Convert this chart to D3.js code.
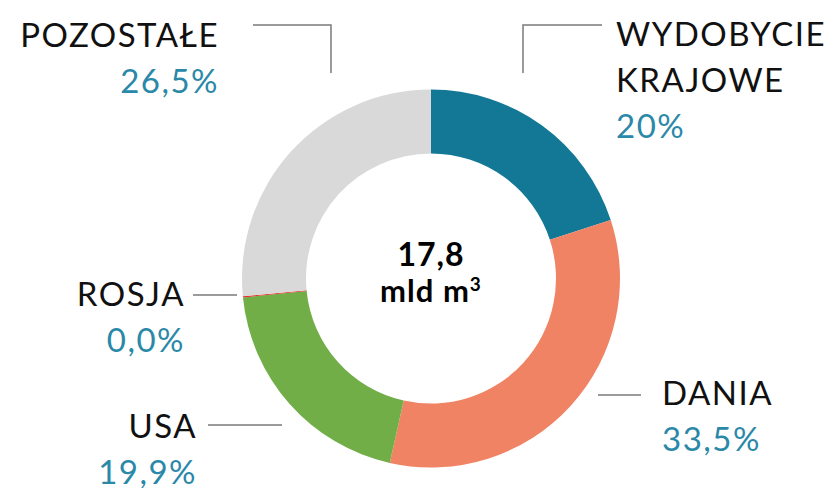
<!DOCTYPE html>
<meta charset="utf-8">
<script src="https://d3js.org/d3.v7.min.js"></script>
<style>
  body { margin: 0; background: #fff; }
  text { font-family: Lato, "Open Sans", sans-serif; }
</style>
<div id="donut"></div>
<script>

    // data
    var names = ["WYDOBYCIE KRAJOWE", "DANIA", "USA", "ROSJA", "POZOSTAŁE"];
    var shares = [20, 33.5, 19.9, 0.1, 26.5];   // ROSJA ~0, drawn as a hairline
    var shareLabels = ["20%", "33,5%", "19,9%", "0,0%", "26,5%"];
    var colors = ["#127896", "#f08364", "#72ae48", "#e3322b", "#d9d9d9"];
    var total = "17,8";

    var width = 831, height = 488;
    var cx = 431, cy = 278.5;

    var svg = d3.select("#donut")
      .append("svg")
        .attr("width", width)
        .attr("height", height);

    var pie = d3.pie().sort(null).value(function(d) { return d; });
    var arc = d3.arc().innerRadius(125).outerRadius(189);

    var g = svg.append("g").attr("transform", "translate(" + cx + "," + cy + ")");

    g.selectAll("path")
      .data(pie(shares))
      .enter()
      .append("path")
        .attr("d", arc)
        .style("fill", function(d, i) { return colors[i]; });

    // centre text
    g.append("text")
      .attr("text-anchor", "middle")
      .attr("y", -13)
      .style("font-size", "32px")
      .style("font-weight", "bold")
      .style("letter-spacing", "1px")
      .text(total);
    var unit = g.append("text")
      .attr("text-anchor", "middle")
      .attr("y", 23)
      .style("font-size", "31px")
      .style("font-weight", "bold")
      .style("letter-spacing", "1px");
    unit.append("tspan").text("mld m");
    unit.append("tspan").attr("dy", -11).style("font-size", "19px").text("3");

    // label placement (one entry per slice)
    var layout = [
      {x: 616, y: 46, anchor: "start", lines: ["WYDOBYCIE", "KRAJOWE"], leader: [[602, 25], [523, 25], [523, 73]]},
      {x: 662, y: 405, anchor: "start", lines: ["DANIA"], leader: [[598, 395], [641, 395]]},
      {x: 197, y: 438, anchor: "end", lines: ["USA"], leader: [[208, 425], [282, 425]]},
      {x: 185, y: 306, anchor: "end", lines: ["ROSJA"], leader: [[193, 295], [237, 295]]},
      {x: 219, y: 47, anchor: "end", lines: ["POZOSTAŁE"], leader: [[253, 25], [331, 25], [331, 73]]}
    ];

    var line = d3.line();
    var lineGap = 46;

    names.forEach(function(n, i) {
      var L = layout[i];
      svg.append("path")
        .attr("d", line(L.leader))
        .style("fill", "none")
        .style("stroke", "#7a7a7a")
        .style("stroke-width", 1.5);

      L.lines.forEach(function(t, k) {
        svg.append("text")
          .attr("x", L.x)
          .attr("y", L.y + k * lineGap)
          .attr("text-anchor", L.anchor)
          .style("font-size", "33px")
          .style("letter-spacing", "1.5px")
          .style("fill", "#111")
          .text(t);
      });

      svg.append("text")
        .attr("x", L.x)
        .attr("y", L.y + L.lines.length * lineGap)
        .attr("text-anchor", L.anchor)
        .style("font-size", "33px")
        .style("letter-spacing", "1.5px")
        .style("fill", "#2a88a8")
        .text(shareLabels[i]);
    });

</script>
